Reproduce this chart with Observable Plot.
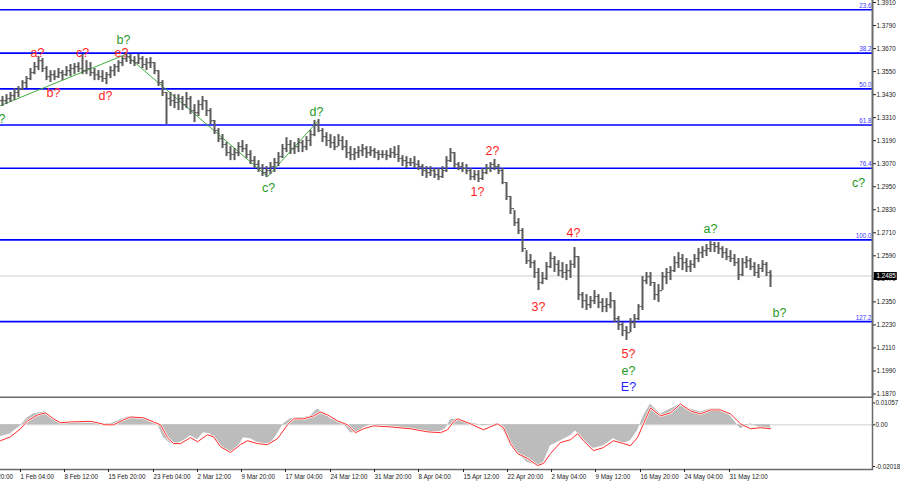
<!DOCTYPE html>
<html><head><meta charset="utf-8">
<script src="https://cdn.jsdelivr.net/npm/d3@7"></script>
<script src="https://cdn.jsdelivr.net/npm/@observablehq/plot@0.6"></script>
<style>
html,body{margin:0;padding:0;background:#fff;overflow:hidden}
#chart{width:900px;height:485px;position:relative;background:#fff}
#chart svg{display:block}
</style></head><body><div id="chart"></div>
<script>
// H4 bars (aggregated), prices in pips (1e-4)
const pipHi = [
13420,13430,13441,13462,13472,13503,13524,13566,13597,13628,
13618,13576,13555,13555,13566,13555,13576,13587,13592,13597,
13639,13607,13597,13566,13555,13555,13545,13576,13587,13607,
13628,13644,13639,13628,13639,13628,13618,13623,13597,13555,
13503,13441,13441,13430,13430,13420,13441,13420,13378,13399,
13420,13399,13357,13295,13253,13222,13180,13159,13149,13180,
13191,13170,13138,13107,13086,13066,13055,13076,13097,13128,
13170,13206,13191,13180,13201,13191,13211,13243,13295,13300,
13253,13232,13222,13211,13222,13211,13191,13159,13149,13159,
13170,13159,13159,13149,13138,13138,13138,13149,13159,13165,
13112,13107,13097,13107,13086,13066,13055,13055,13045,13045,
13055,13107,13149,13128,13076,13076,13066,13045,13034,13034,
13045,13066,13076,13092,13066,13045,12972,12899,12826,12784,
12732,12617,12597,12565,12524,12503,12555,12607,12586,12565,
12555,12545,12565,12633,12586,12399,12388,12378,12409,12388,
12367,12367,12399,12357,12274,12242,12222,12263,12284,12336,
12482,12503,12503,12451,12440,12503,12524,12534,12586,12607,
12597,12576,12565,12597,12628,12638,12649,12664,12659,12659,
12638,12628,12617,12597,12576,12576,12586,12576,12555,12545,
12565,12555,12513];
const pipLo = [
13368,13378,13389,13399,13415,13451,13462,13503,13534,13555,
13545,13503,13493,13503,13514,13503,13524,13524,13534,13545,
13534,13534,13524,13503,13503,13493,13482,13514,13524,13545,
13576,13597,13587,13576,13587,13566,13555,13566,13534,13472,
13420,13274,13368,13357,13347,13347,13357,13326,13284,13316,
13347,13316,13274,13222,13180,13149,13107,13086,13086,13107,
13128,13097,13066,13045,13024,13003,12998,13013,13024,13055,
13097,13128,13118,13118,13128,13128,13138,13159,13211,13232,
13180,13159,13149,13138,13159,13138,13097,13086,13086,13097,
13107,13097,13107,13097,13086,13097,13086,13097,13097,13076,
13055,13045,13055,13045,13034,13003,12993,13003,12993,12982,
12993,13024,13076,13045,13034,13024,13013,12982,12982,12972,
12982,13013,13024,13034,13013,12961,12878,12805,12743,12701,
12607,12545,12524,12472,12409,12440,12461,12524,12503,12482,
12472,12461,12472,12524,12357,12315,12305,12315,12336,12315,
12294,12294,12315,12242,12201,12169,12149,12190,12211,12253,
12305,12440,12430,12357,12347,12409,12440,12461,12503,12524,
12513,12503,12503,12524,12555,12576,12586,12607,12607,12597,
12576,12565,12555,12534,12461,12482,12524,12513,12482,12472,
12503,12482,12425];
const pipCl = [
13399,13409,13425,13441,13462,13493,13514,13545,13576,13607,
13566,13524,13534,13524,13545,13534,13555,13566,13576,13566,
13555,13566,13545,13534,13524,13514,13534,13555,13576,13597,
13618,13628,13607,13597,13618,13587,13597,13597,13555,13493,
13441,13409,13399,13389,13409,13378,13409,13347,13336,13378,
13399,13347,13295,13243,13201,13170,13128,13118,13128,13159,
13149,13118,13086,13066,13045,13024,13034,13055,13076,13107,
13149,13170,13149,13159,13180,13159,13191,13222,13274,13243,
13211,13191,13180,13159,13191,13159,13128,13118,13128,13138,
13149,13128,13138,13128,13118,13118,13112,13128,13118,13097,
13086,13076,13076,13066,13055,13034,13024,13034,13013,13003,
13034,13086,13128,13066,13055,13045,13034,13003,13013,12993,
13024,13045,13066,13055,13034,12972,12899,12836,12763,12722,
12628,12565,12555,12503,12451,12472,12534,12576,12545,12513,
12503,12513,12545,12586,12388,12357,12336,12357,12378,12347,
12326,12336,12357,12263,12232,12201,12190,12242,12263,12326,
12461,12482,12451,12388,12409,12482,12503,12513,12555,12576,
12555,12534,12545,12576,12607,12617,12628,12649,12638,12628,
12607,12586,12576,12555,12492,12555,12565,12534,12503,12524,
12545,12503,12485];

const fibLevels = ["23.6","38.2","50.0","61.8","76.4","100.0","127.2"];
const fibPrices = [1.3872,1.3646,1.3460,1.3272,1.3046,1.2673,1.2247];
const lastPrice = 1.2485;
const priceTicks = [1.3910,1.3790,1.3670,1.3550,1.3430,1.3310,1.3190,1.3070,1.2950,1.2830,1.2710,1.2590,1.2470,1.2350,1.2230,1.2110,1.1990,1.1870];
const macdTicks = [0.01057, 0, -0.02018];
const timeTickPos = [-6.25,4.75,15.75,26.75,38,49,60,71,82.25,93.25,104.25,115.5,126.5,137.5,148.5,159.75,170.75,182];
const timeTickLabels = ["24 Jan 20:00","1 Feb 04:00","8 Feb 12:00","15 Feb 20:00","23 Feb 04:00","2 Mar 12:00","9 Mar 20:00","17 Mar 04:00","24 Mar 12:00","31 Mar 20:00","8 Apr 04:00","15 Apr 12:00","22 Apr 20:00","2 May 04:00","9 May 12:00","16 May 20:00","24 May 04:00","31 May 12:00"];

// wave labels: bar index, price, degree
const waveLabels = [
 {t:"a?",deg:"minute",i:-0.5,p:1.3305},
 {t:"a?",deg:"minor",i:9.25,p:1.3649},
 {t:"b?",deg:"minor",i:13.25,p:1.3441},
 {t:"c?",deg:"minor",i:20.5,p:1.3649},
 {t:"d?",deg:"minor",i:26.25,p:1.3425},
 {t:"e?",deg:"minor",i:30.25,p:1.3649},
 {t:"b?",deg:"minute",i:30.75,p:1.3712},
 {t:"c?",deg:"minute",i:67,p:1.2946},
 {t:"d?",deg:"minute",i:79,p:1.3342},
 {t:"1?",deg:"minor",i:119.25,p:1.2920},
 {t:"2?",deg:"minor",i:123,p:1.3138},
 {t:"3?",deg:"minor",i:134.5,p:1.2321},
 {t:"4?",deg:"minor",i:143.25,p:1.2711},
 {t:"5?",deg:"minor",i:157,p:1.2081},
 {t:"e?",deg:"minute",i:157,p:1.1992},
 {t:"E?",deg:"major",i:157,p:1.1909},
 {t:"a?",deg:"minute",i:177.5,p:1.2732},
 {t:"b?",deg:"minute",i:194.75,p:1.2294},
 {t:"c?",deg:"minute",i:214.5,p:1.2972}
];
const waveLine = [[0,1.3373],[31.25,1.3639],[66.75,1.3003],[79.25,1.3290]];

// MACD histogram and signal: [bar index, value]
const macdHist = [[0,-0.0058],[2.5,-0.0043],[5,-0.0005],[6.75,0.0034],[8.25,0.0053],[10.75,0.0062],[12.5,0.0034],[14.25,0.0014],[15.75,0.0010],[20,0.0014],[23.25,0.0014],[25,0.0005],[27.5,0.0005],[30,0.0024],[31.75,0.0038],[35,0.0034],[37.5,0.0014],[39.25,0.0005],[40.75,-0.0062],[42.5,-0.0091],[44.25,-0.0091],[45.75,-0.0077],[47.5,-0.0053],[49.25,-0.0072],[50.75,-0.0038],[52.5,-0.0043],[54.25,-0.0086],[55.75,-0.0115],[57.5,-0.0134],[59.25,-0.0110],[60.75,-0.0062],[62.5,-0.0067],[64.25,-0.0086],[65.75,-0.0091],[67.5,-0.0091],[69.25,-0.0043],[70.75,0.0005],[72.5,0.0029],[74.25,0.0034],[75.75,0.0034],[77.5,0.0043],[79.25,0.0077],[80.75,0.0058],[82.5,0.0029],[84.25,0.0019],[85.75,0.0005],[87.5,-0.0038],[89.25,-0.0038],[90.75,-0.0014],[92.5,0.0000],[95.75,-0.0005],[99.25,-0.0010],[102.5,-0.0019],[105.75,-0.0029],[109.25,-0.0038],[111.25,-0.0019],[112.5,0.0024],[114.25,0.0029],[117.5,0.0010],[120.75,-0.0005],[124.25,0.0005],[125.75,-0.0029],[127.5,-0.0101],[129.25,-0.0139],[131.75,-0.0182],[134.25,-0.0197],[135.75,-0.0182],[137.5,-0.0101],[140,-0.0077],[142.5,-0.0053],[143.75,-0.0029],[145.75,-0.0077],[148.25,-0.0115],[150.75,-0.0101],[153.25,-0.0067],[155.75,-0.0091],[157.5,-0.0077],[159.25,-0.0029],[160.75,0.0043],[162.5,0.0101],[165,0.0053],[167.5,0.0077],[170,0.0101],[172.5,0.0077],[175,0.0062],[177.5,0.0077],[180,0.0077],[182.5,0.0043],[185,-0.0019],[187.5,0.0005],[190,-0.0014],[192.5,-0.0019]];
const macdSignal = [[0,-0.0077],[2.5,-0.0058],[5,-0.0019],[6.75,0.0019],[9.25,0.0048],[11.25,0.0058],[13.25,0.0029],[15,0.0010],[17.5,0.0014],[22.5,0.0017],[24.25,0.0010],[26.25,0.0000],[28.25,0.0000],[30.75,0.0024],[32.5,0.0038],[35.75,0.0034],[38.25,0.0014],[40,0.0000],[41.75,-0.0062],[43.25,-0.0091],[45,-0.0091],[47.5,-0.0062],[49.25,-0.0082],[51.75,-0.0048],[53.25,-0.0058],[55,-0.0106],[57.5,-0.0134],[60,-0.0096],[61.75,-0.0077],[64.25,-0.0091],[66.75,-0.0096],[69.25,-0.0067],[71.75,0.0000],[73.25,0.0029],[75.75,0.0029],[78.25,0.0043],[80,0.0062],[81.75,0.0048],[84.25,0.0019],[86.75,0.0000],[88.75,-0.0038],[90.75,-0.0019],[93.25,-0.0005],[97.5,-0.0010],[102.5,-0.0019],[106.75,-0.0034],[110,-0.0038],[111.75,-0.0024],[113.25,0.0014],[114.25,0.0029],[117.5,0.0005],[120.75,-0.0024],[124.25,0.0005],[125.75,-0.0014],[127.5,-0.0091],[129.25,-0.0139],[131.75,-0.0163],[134.25,-0.0197],[135.75,-0.0187],[137.5,-0.0139],[140,-0.0086],[142.5,-0.0072],[144.25,-0.0043],[145.75,-0.0077],[148.25,-0.0125],[150.75,-0.0110],[153.25,-0.0077],[155.75,-0.0091],[157.5,-0.0101],[159.25,-0.0062],[160.75,0.0005],[162.5,0.0082],[165,0.0043],[167.5,0.0058],[170,0.0101],[172.5,0.0067],[175,0.0053],[177.5,0.0072],[180,0.0072],[182.5,0.0053],[185,0.0005],[187.5,-0.0019],[190,-0.0014],[192.5,-0.0019]];

// ---------- build ----------
const bars = pipHi.map((h, i) => ({
  x: i + 0.5,
  hi: h / 1e4,
  lo: pipLo[i] / 1e4,
  cl: pipCl[i] / 1e4,
  op: (i ? pipCl[i - 1] : pipCl[0]) / 1e4
}));
const fib = fibLevels.map((l, i) => ({level: l, price: fibPrices[i]}));
const labelMap = new Map(timeTickPos.map((p, i) => [p, timeTickLabels[i]]));
const degColor = {minor: "#ff1f1f", minute: "#1f9a1f", major: "#2222ff"};
const xDom = [0, 218];
const font = "'Liberation Sans', Arial, sans-serif";
const barColor = "#5a5a5a";

const main = Plot.plot({
  width: 900, height: 398,
  marginTop: -4, marginBottom: 1, marginLeft: -4, marginRight: 28,
  x: {domain: xDom, range: [0, 872], axis: null},
  y: {domain: [1.1870, 1.3910], range: [393.5, 2], axis: null},
  style: {fontFamily: font, background: "#fff", color: "#222"},
  marks: [
    Plot.ruleY([lastPrice], {stroke: "#cfcfcf"}),
    Plot.ruleY(fib, {y: "price", stroke: "#0000ff", strokeWidth: 1.6}),
    Plot.text(fib, {y: "price", text: "level", frameAnchor: "right", textAnchor: "end", dx: -1, dy: -4, fill: "#3a3aff", fontSize: 6.3}),
    Plot.line(waveLine, {x: d => d[0], y: d => d[1], stroke: "#3fae3f", strokeWidth: 1}),
    Plot.ruleX(bars, {x: "x", y1: "lo", y2: "hi", stroke: barColor, strokeWidth: 2}),
    Plot.ruleY(bars, {x1: d => d.x - 0.45, x2: "x", y: "op", stroke: barColor, strokeWidth: 1.2}),
    Plot.ruleY(bars, {x1: "x", x2: d => d.x + 0.45, y: "cl", stroke: barColor, strokeWidth: 1.2}),
    ...Object.keys(degColor).map(k =>
      Plot.text(waveLabels.filter(d => d.deg === k), {x: "i", y: "p", text: "t", fill: degColor[k], fontSize: 12.5})
    ),
    Plot.frame({stroke: "#6a6a6a", strokeWidth: 2}),
    Plot.axisY(priceTicks, {anchor: "right", tickSize: 3, tickPadding: 1, tickFormat: d => d.toFixed(4), fontSize: 6.3}),
    Plot.ruleY([lastPrice], {x1: xDom[1] + 0.45, x2: xDom[1] + 6.2, stroke: "#000", strokeWidth: 8}),
    Plot.text([lastPrice], {y: d => d, text: d => d.toFixed(4), frameAnchor: "right", textAnchor: "start", dx: 4, fill: "#fff", fontSize: 6.3})
  ]
});

const macd = Plot.plot({
  width: 900, height: 87,
  marginTop: -4, marginBottom: 16, marginLeft: -4, marginRight: 28,
  x: {domain: xDom, range: [0, 872], axis: null},
  y: {domain: [-0.02018, 0.01057], range: [68, 4.5], axis: null},
  style: {fontFamily: font, background: "#fff", color: "#222"},
  marks: [
    Plot.ruleY([0], {stroke: "#cfcfcf"}),
    Plot.areaY(macdHist, {x: d => d[0], y: d => d[1], fill: "#bcbcbc"}),
    Plot.lineY(macdSignal, {x: d => d[0], y: d => d[1], stroke: "#ffffff", strokeWidth: 2.2}),
    Plot.lineY(macdSignal, {x: d => d[0], y: d => d[1], stroke: "#ff2a2a", strokeWidth: 1}),
    Plot.frame({stroke: "#6a6a6a", strokeWidth: 1.5}),
    Plot.axisY(macdTicks, {anchor: "right", tickSize: 2, tickPadding: 1, tickFormat: d => d === 0 ? "0.00" : d.toFixed(5), fontSize: 6.3}),
    Plot.axisX(timeTickPos, {anchor: "bottom", tickSize: 3, tickPadding: 2, tickFormat: d => labelMap.get(d), textAnchor: "start", dx: 1, fontSize: 6.3})
  ]
});

const host = document.getElementById("chart");
host.appendChild(main);
host.appendChild(macd);
</script></body></html>
